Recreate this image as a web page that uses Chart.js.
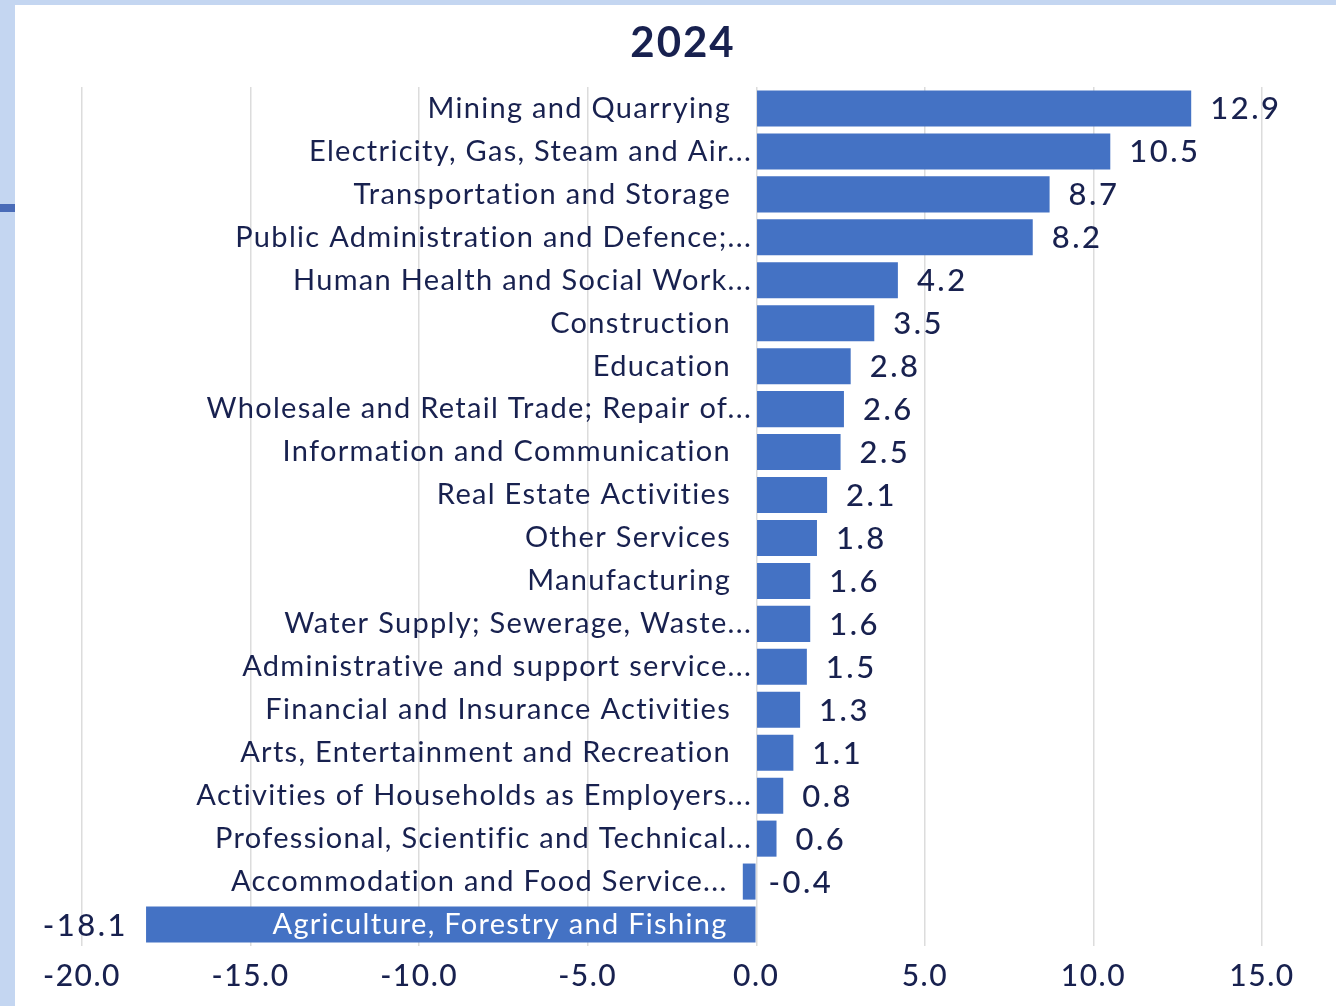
<!DOCTYPE html>
<html>
<head>
<meta charset="utf-8">
<script src="https://cdn.jsdelivr.net/npm/chart.js@4/dist/chart.umd.min.js"></script>
<style>
  html, body { margin: 0; padding: 0; }
  body { width: 1336px; height: 1006px; background: #c4d6f1; position: relative; overflow: hidden; }
  #mark { position: absolute; left: 0; top: 204px; width: 15px; height: 8px; background: #4a6cb8; }
  #panel { position: absolute; left: 15px; top: 5px; width: 1321px; height: 1001px; background: #fff; overflow: hidden; }
</style>
</head>
<body>
<div id="mark"></div>
<div id="panel"><canvas id="myChart" width="1321" height="1001"></canvas></div>
<script>
// industries, top to bottom
const categories = [
  "Mining and Quarrying",
  "Electricity, Gas, Steam and Air...",
  "Transportation and Storage",
  "Public Administration and Defence;...",
  "Human Health and Social Work...",
  "Construction",
  "Education",
  "Wholesale and Retail Trade; Repair of...",
  "Information and Communication",
  "Real Estate Activities",
  "Other Services",
  "Manufacturing",
  "Water Supply; Sewerage, Waste...",
  "Administrative and support service...",
  "Financial and Insurance Activities",
  "Arts, Entertainment and Recreation",
  "Activities of Households as Employers...",
  "Professional, Scientific and Technical...",
  "Accommodation and Food Service...",
  "Agriculture, Forestry and Fishing",
];
// growth values for 2024
const values2024 = [12.9, 10.5, 8.7, 8.2, 4.2, 3.5, 2.8, 2.6, 2.5, 2.1, 1.8, 1.6, 1.6, 1.5, 1.3, 1.1, 0.8, 0.6, -0.4, -18.1];
// x axis ticks
const xTicks = [-20, -15, -10, -5, 0, 5, 10, 15];
const title = "2024";

const navy = "#18214f";
const fontFamily = "Lato, 'Open Sans', sans-serif";

// wider letter spacing for the axis ticks, the font is narrower than the original
const spacing = {
  id: "spacing",
  beforeDraw(chart) {
    chart.ctx.letterSpacing = "1.5px";
  },
};

// title, category names next to the zero line, values at bar ends
const barLabels = {
  id: "barLabels",
  afterDatasetsDraw(chart) {
    const ctx = chart.ctx;
    const meta = chart.getDatasetMeta(0);
    ctx.save();
    ctx.textBaseline = "middle";

    ctx.font = "bold 42px " + fontFamily;
    ctx.letterSpacing = "2px";
    ctx.fillStyle = navy;
    ctx.textAlign = "center";
    ctx.fillText(title, 668, 38);

    meta.data.forEach((bar, i) => {
      const v = values2024[i];
      const name = categories[i];
      const base = bar.base;
      // category name
      ctx.font = "29px " + fontFamily;
      ctx.letterSpacing = "1.3px";
      ctx.textAlign = "right";
      if (v >= 0) {
        ctx.fillStyle = navy;
        ctx.fillText(name, base - (name.endsWith("...") ? 5 : 26), bar.y);
      } else {
        const inside = base - bar.x > ctx.measureText(name).width + 40;
        ctx.fillStyle = inside ? "#ffffff" : navy;
        ctx.fillText(name, base - 28, bar.y);
      }
      // value
      ctx.font = "500 31px " + fontFamily;
      ctx.letterSpacing = "2.5px";
      ctx.fillStyle = navy;
      const txt = v.toFixed(1);
      if (v >= 0) {
        ctx.textAlign = "left";
        ctx.fillText(txt, bar.x + 19, bar.y + 1);
      } else if (v > -1) {
        ctx.textAlign = "left";
        ctx.fillText(txt, base + 13, bar.y + 1);
      } else {
        ctx.textAlign = "right";
        ctx.fillText(txt, bar.x - 18, bar.y + 1);
      }
    });
    ctx.restore();
  },
};

const ctx = document.getElementById("myChart").getContext("2d");
const myChart = new Chart(ctx, {
  type: "bar",
  data: {
    labels: categories,
    datasets: [
      {
        label: title,
        data: values2024,
        backgroundColor: "#4472c4",
        borderWidth: 0,
        barPercentage: 0.84,
        categoryPercentage: 1,
      },
    ],
  },
  options: {
    indexAxis: "y",
    responsive: false,
    animation: false,
    events: [],
    layout: { padding: { left: 67, right: 74, top: 82, bottom: 0 } },
    plugins: {
      legend: { display: false },
      tooltip: { enabled: false },
      title: { display: false },
    },
    scales: {
      x: {
        min: -20,
        max: 15,
        afterBuildTicks(axis) {
          axis.ticks = xTicks.map((v) => ({ value: v }));
        },
        grid: { color: "#dcdcdc", lineWidth: 1.5, drawTicks: false },
        border: { display: false },
        ticks: {
          color: navy,
          padding: 12,
          font: { family: fontFamily, size: 30, weight: "500" },
          callback: (v) => Number(v).toFixed(1),
        },
      },
      y: {
        display: false,
      },
    },
  },
  plugins: [spacing, barLabels],
});
</script>
</body>
</html>
